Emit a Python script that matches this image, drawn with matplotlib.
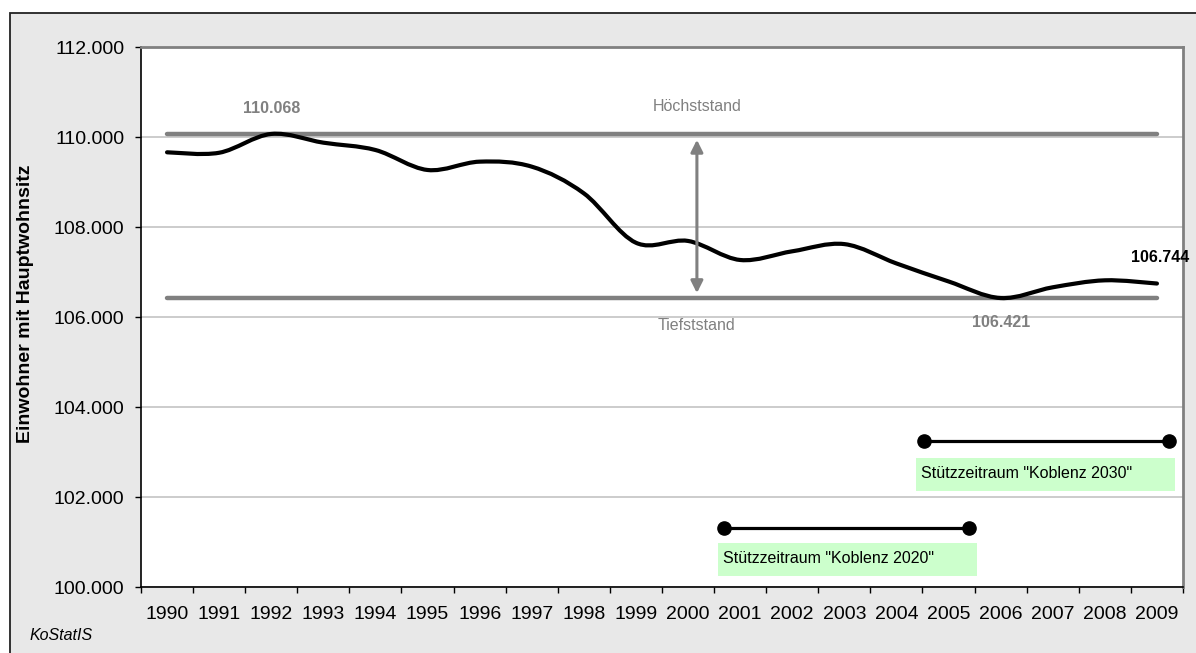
import matplotlib
matplotlib.use('Agg')
import matplotlib.pyplot as plt
from matplotlib.path import Path
from matplotlib.patches import PathPatch, Rectangle
from matplotlib.ticker import FuncFormatter, FixedLocator

plt.rcParams['font.family'] = ['Liberation Sans', 'DejaVu Sans']

# ---------------- data ----------------
years = list(range(1990, 2010))
population = [109660, 109650, 110068, 109874, 109711, 109267, 109452, 109341,
              108748, 107650, 107690, 107267, 107460, 107620, 107190, 106790,
              106421, 106660, 106815, 106744]
y_ticks = [100000, 102000, 104000, 106000, 108000, 110000, 112000]
y_label = "Einwohner mit Hauptwohnsitz"
max_label = "Höchststand"
min_label = "Tiefststand"
source_label = "KoStatIS"

period_labels = ['Stützzeitraum "Koblenz 2020"', 'Stützzeitraum "Koblenz 2030"']
period_start = [2000.69, 2004.52]
period_end = [2005.40, 2009.23]
period_level = [101311, 103244]
box_x0 = [2000.58, 2004.38]
box_x1 = [2005.54, 2009.35]
box_y0 = [100244, 102133]
box_y1 = [100978, 102867]
arrow_x = 2000.17

W, H = 1196, 653
fig = plt.figure(figsize=(W / 100, H / 100), dpi=100, facecolor='white')

# outer chart area (light gray with dark border on top/left)
bg = Rectangle((10 / W, -0.1), 1.2, 1 - 13 / H + 0.1, transform=fig.transFigure,
               facecolor='#e8e8e8', edgecolor='#222222', lw=1.3, zorder=-10)
fig.add_artist(bg)

left, right, top, bottom = 141, 1183, 47, 587
ax = fig.add_axes([left / W, (H - bottom) / H, (right - left) / W, (bottom - top) / H])
ax.set_facecolor('white')
ax.set_xlim(years[0] - 0.5, years[-1] + 0.5)
ax.set_ylim(y_ticks[0], y_ticks[-1])

# grid
ax.set_yticks(y_ticks)
ax.yaxis.grid(True, color='#c8c8c8', lw=1.3, zorder=0)
ax.set_axisbelow(True)
ax.yaxis.set_major_formatter(FuncFormatter(lambda v, p: f"{v:,.0f}".replace(',', '.')))

ax.set_xticks(years)
ax.set_xticklabels([str(y) for y in years])
ax.xaxis.set_minor_locator(FixedLocator([y - 0.5 for y in years] + [years[-1] + 0.5]))
ax.tick_params(axis='x', which='major', length=0, pad=14, labelsize=14, colors='black')
ax.tick_params(axis='x', which='minor', length=4.5, width=1, direction='out', color='black')
ax.tick_params(axis='y', which='major', length=4, width=1, direction='out', pad=8,
               labelsize=14, colors='black')

for s in ['left', 'bottom']:
    ax.spines[s].set_color('black')
    ax.spines[s].set_linewidth(1.2)
for s in ['top', 'right']:
    ax.spines[s].set_color('#808080')
    ax.spines[s].set_linewidth(2)

# max / min lines
vmax = max(population)
vmin = min(population)
imax = population.index(vmax)
imin = population.index(vmin)
ax.plot([years[0], years[-1]], [vmax, vmax], color='#808080', lw=3.2,
        solid_capstyle='round', zorder=3)
ax.plot([years[0], years[-1]], [vmin, vmin], color='#808080', lw=3.2,
        solid_capstyle='round', zorder=3)

# smoothed population line (Catmull-Rom as Bezier)
xs, ys = years, population
n = len(xs)
verts = [(xs[0], ys[0])]
codes = [Path.MOVETO]
for i in range(n - 1):
    p0 = (xs[i - 1], ys[i - 1]) if i > 0 else (xs[i], ys[i])
    p1 = (xs[i], ys[i])
    p2 = (xs[i + 1], ys[i + 1])
    p3 = (xs[i + 2], ys[i + 2]) if i + 2 < n else p2
    c1 = (p1[0] + (p2[0] - p0[0]) / 6, p1[1] + (p2[1] - p0[1]) / 6)
    c2 = (p2[0] - (p3[0] - p1[0]) / 6, p2[1] - (p3[1] - p1[1]) / 6)
    verts += [c1, c2, p2]
    codes += [Path.CURVE4] * 3
ax.add_patch(PathPatch(Path(verts, codes), facecolor='none', edgecolor='black',
                       lw=3, capstyle='round', joinstyle='round', zorder=4))

# double arrow between max and min
ax.annotate('', xy=(arrow_x, vmin + 110), xytext=(arrow_x, vmax - 130),
            arrowprops=dict(arrowstyle='<|-|>', color='#808080', lw=2.2,
                            mutation_scale=18, shrinkA=0, shrinkB=0), zorder=5)

gray = '#808080'
ax.annotate(f"{vmax:,}".replace(',', '.'), xy=(years[imax], vmax), xytext=(0, 18),
            textcoords='offset points', ha='center', va='center', fontsize=11.5,
            fontweight='bold', color=gray)
ax.annotate(max_label, xy=(arrow_x, vmax), xytext=(0, 20), textcoords='offset points',
            ha='center', va='center', fontsize=11.5, color=gray)
ax.annotate(min_label, xy=(arrow_x, vmin), xytext=(0, -20), textcoords='offset points',
            ha='center', va='center', fontsize=11.5, color=gray)
ax.annotate(f"{vmin:,}".replace(',', '.'), xy=(years[imin], vmin), xytext=(0, -17.5),
            textcoords='offset points', ha='center', va='center', fontsize=11.5,
            fontweight='bold', color=gray)
ax.annotate(f"{population[-1]:,}".replace(',', '.'), xy=(years[-1], population[-1]),
            xytext=(2, 18.5), textcoords='offset points', ha='center', va='center',
            fontsize=11.5, fontweight='bold', color='black', annotation_clip=False)

# support periods
for lab, xs0, xs1, lv, bx0, bx1, by0, by1 in zip(period_labels, period_start, period_end,
                                                 period_level, box_x0, box_x1, box_y0, box_y1):
    ax.add_patch(Rectangle((bx0, by0), bx1 - bx0, by1 - by0, facecolor='#ccffcc',
                           edgecolor='none', zorder=3))
    ax.annotate(lab, xy=(bx0, (by0 + by1) / 2), xytext=(3.5, 1), textcoords='offset points',
                ha='left', va='center', fontsize=11.5, color='black', zorder=4)
    ax.plot([xs0, xs1], [lv, lv], color='black', lw=2.3, marker='o', markersize=9.5,
            zorder=4)

fig.text(26 / W, 1 - 304 / H, y_label, rotation=90, ha='center', va='center',
         fontsize=14, fontweight='bold')
fig.text(30 / W, 1 - 636 / H, source_label, ha='left', va='center', fontsize=11.5,
         style='italic')

fig.savefig('out.png', dpi=100, facecolor=fig.get_facecolor())
